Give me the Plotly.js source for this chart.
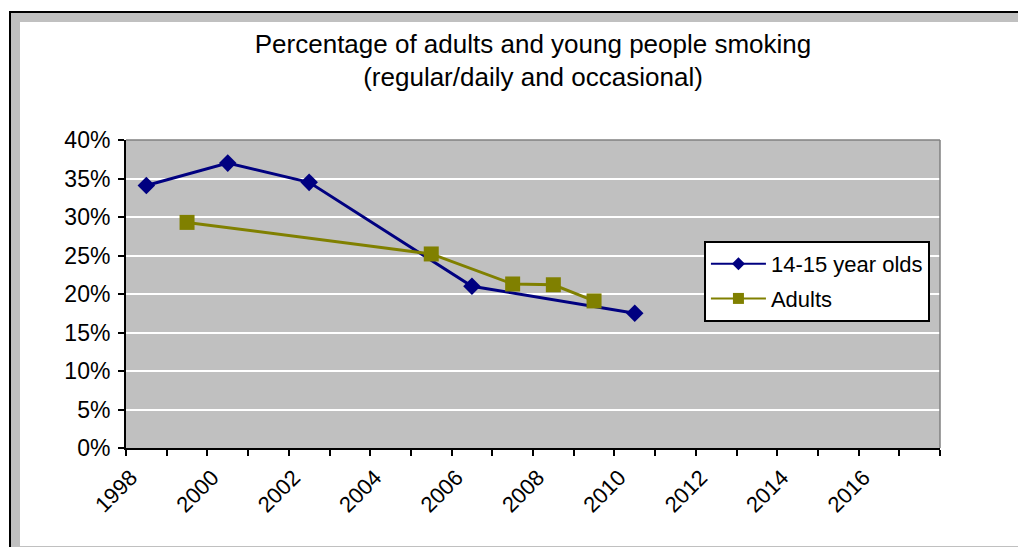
<!DOCTYPE html>
<html>
<head>
<meta charset="utf-8">
<script src="https://cdn.plot.ly/plotly-3.0.1.min.js"></script>
<style>
  html, body { margin: 0; padding: 0; background: #ffffff; overflow: hidden; }
  #page { position: relative; width: 1018px; height: 547px; overflow: hidden; }
  .frame { position: absolute; }
  #frameOuter { left: 9px; top: 11px; width: 1030px; height: 560px; background: #000000; }
  #frameBand { left: 11px; top: 13px; width: 1030px; height: 560px; background: #c0c0c0; }
  #frameInner { left: 20px; top: 22px; width: 1020px; height: 524px; background: #ffffff; }
  #chart { position: absolute; left: 0; top: 0; width: 1018px; height: 547px; }
</style>
</head>
<body>
<div id="page">
  <div class="frame" id="frameOuter"></div>
  <div class="frame" id="frameBand"></div>
  <div class="frame" id="frameInner"></div>
  <div id="chart"></div>
</div>
<script>
// Survey years (mid-year positions) and percentages smoking
const youngYears = [1998.5, 2000.5, 2002.5, 2006.5, 2010.5];
const youngPct   = [34.1, 37.0, 34.5, 21.0, 17.5];
const adultYears = [1999.5, 2005.5, 2007.5, 2008.5, 2009.5];
const adultPct   = [29.3, 25.2, 21.3, 21.2, 19.1];

const seriesNames = ['14-15 year olds', 'Adults'];
const titleLines = ['Percentage of adults and young people smoking', '(regular/daily and occasional)'];

// Yearly ticks, labelled every second year up to 2016
const tickYears = [];
const tickLabels = [];
for (let yr = 1998; yr <= 2018; yr++) {
  tickYears.push(yr);
  tickLabels.push(yr % 2 === 0 && yr <= 2016 ? String(yr) : '');
}

const NAVY = '#000080';
const OLIVE = '#808000';
const FONT = 'Arial, "Liberation Sans", sans-serif';

const traces = [
  {
    x: youngYears, y: youngPct, type: 'scatter', mode: 'lines+markers',
    name: seriesNames[0], showlegend: false,
    line: { color: NAVY, width: 3 },
    marker: { symbol: 'diamond', size: 13.5, color: NAVY }
  },
  {
    x: adultYears, y: adultPct, type: 'scatter', mode: 'lines+markers',
    name: seriesNames[1], showlegend: false,
    line: { color: OLIVE, width: 3 },
    marker: { symbol: 'square', size: 15, color: OLIVE }
  },
  // legend entries with thinner sample lines and smaller markers
  {
    x: [null], y: [null], type: 'scatter', mode: 'lines+markers',
    name: seriesNames[0], legendgroup: 'a',
    line: { color: NAVY, width: 2 },
    marker: { symbol: 'diamond', size: 10, color: NAVY }
  },
  {
    x: [null], y: [null], type: 'scatter', mode: 'lines+markers',
    name: seriesNames[1], legendgroup: 'b',
    line: { color: OLIVE, width: 2 },
    marker: { symbol: 'square', size: 11, color: OLIVE }
  }
];

const layout = {
  width: 1018, height: 547,
  margin: { l: 126, r: 78, t: 140, b: 99, pad: 0 },
  paper_bgcolor: 'rgba(0,0,0,0)',
  plot_bgcolor: '#c0c0c0',
  font: { family: FONT, color: '#000000', size: 22 },
  title: {
    text: titleLines.join('<br>'),
    font: { family: FONT, size: 26, color: '#000000' },
    x: 0.5, xref: 'paper', xanchor: 'center',
    y: 0.904, yref: 'container', yanchor: 'top'
  },
  xaxis: {
    range: [1998, 2018],
    tickmode: 'array', tickvals: tickYears, ticktext: tickLabels,
    tickangle: -45, ticklabelshift: 5,
    ticks: 'outside', ticklen: 6, tickwidth: 2, tickcolor: '#000000',
    showline: true, linecolor: '#000000', linewidth: 2,
    showgrid: false, zeroline: false,
    tickfont: { family: FONT, size: 22, color: '#000000' },
    fixedrange: true
  },
  yaxis: {
    range: [0, 40], dtick: 5, tick0: 0, ticksuffix: '%',
    ticks: 'outside', ticklen: 6, tickwidth: 2, tickcolor: '#000000',
    ticklabelstandoff: 3,
    showline: true, linecolor: '#000000', linewidth: 2,
    showgrid: true, gridcolor: '#ffffff', gridwidth: 2,
    zeroline: false,
    tickfont: { family: FONT, size: 23, color: '#000000' },
    fixedrange: true
  },
  shapes: [
    { type: 'line', xref: 'paper', yref: 'paper', x0: 0, x1: 1, y0: 1, y1: 1,
      line: { color: '#808080', width: 1.5 } },
    { type: 'line', xref: 'paper', yref: 'paper', x0: 1, x1: 1, y0: 0, y1: 1,
      line: { color: '#808080', width: 1.5 } }
  ],
  legend: {
    x: 0.71, y: 0.672, xanchor: 'left', yanchor: 'top',
    bgcolor: '#ffffff', bordercolor: '#000000', borderwidth: 2,
    font: { family: FONT, size: 22, color: '#000000' },
    traceorder: 'grouped', tracegroupgap: 3, itemwidth: 55
  },
  showlegend: true
};

Plotly.newPlot('chart', traces, layout, { displayModeBar: false, staticPlot: true });
</script>
</body>
</html>
